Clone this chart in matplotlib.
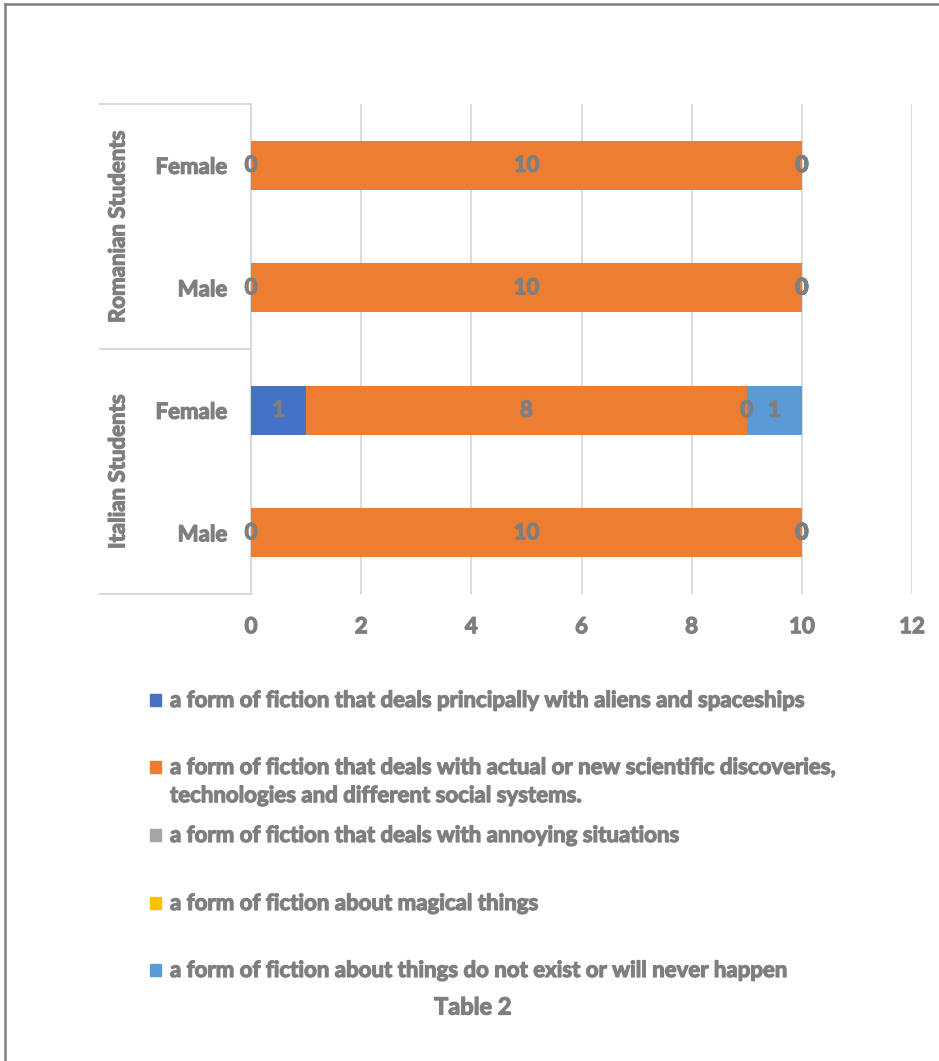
import matplotlib
matplotlib.use("Agg")
import matplotlib.pyplot as plt
import matplotlib.patheffects as pe
from matplotlib.patches import Rectangle
from matplotlib.lines import Line2D
from matplotlib.transforms import blended_transform_factory

# ---- data ----
categories = ["Male", "Female", "Male", "Female"]
groups = ["Italian Students", "Romanian Students"]
series_names = [
    "a form of fiction that deals principally with aliens and spaceships",
    "a form of fiction that deals with actual or new scientific discoveries,\ntechnologies and different social systems.",
    "a form of fiction that deals with annoying situations",
    "a form of fiction about magical things",
    "a form of fiction about things do not exist or will never happen",
]
aliens = [0, 1, 0, 0]
scientific = [10, 8, 10, 10]
annoying = [0, 0, 0, 0]
magical = [0, 0, 0, 0]
never_happen = [0, 1, 0, 0]
series_values = [aliens, scientific, annoying, magical, never_happen]
series_colors = ["#4472C4", "#ED7D31", "#A5A5A5", "#FFC000", "#5B9BD5"]
x_ticks = [0, 2, 4, 6, 8, 10, 12]
caption = "Table 2"

FONT = ["Lato", "DejaVu Sans"]
TEXT = "#7f7f7f"
GRID = "#d9d9d9"
FS = 16
# heavier strokes for the text
BOLD = [pe.withStroke(linewidth=0.9, foreground=TEXT)]
plt.rcParams["font.family"] = FONT
plt.rcParams["font.weight"] = "bold"

W, H = 939, 1061
fig = plt.figure(figsize=(W / 100, H / 100), dpi=100)
ax = fig.add_axes([251 / W, 1 - 594 / H, (912 - 251) / W, (594 - 104) / H])

ypos = list(range(len(categories)))
left = [0] * len(categories)
for vals, col in zip(series_values, series_colors):
    bars = ax.barh(ypos, vals, left=left, height=0.4, color=col, zorder=3)
    labels = ax.bar_label(bars, labels=[str(v) for v in vals], label_type="center",
                          color=TEXT, fontsize=FS, fontweight="bold", zorder=4)
    for t in labels:
        t.set_path_effects(BOLD)
    left = [a + b for a, b in zip(left, vals)]

ax.set_xlim(0, 12)
ax.set_ylim(-0.5, len(categories) - 0.5)
ax.set_xticks(x_ticks)
ax.set_xticklabels([str(t) for t in x_ticks])
ax.set_yticks(ypos)
ax.set_yticklabels(categories)
ax.tick_params(axis="x", length=0, pad=16, labelsize=FS, labelcolor=TEXT)
ax.tick_params(axis="y", length=0, pad=17, labelsize=FS, labelcolor=TEXT)
for t in ax.get_xticklabels() + ax.get_yticklabels():
    t.set_path_effects(BOLD)
ax.xaxis.grid(True, color=GRID, lw=1.3, zorder=0)
for s in ["top", "right", "bottom"]:
    ax.spines[s].set_visible(False)
ax.spines["left"].set_color(GRID)
ax.spines["left"].set_linewidth(1.5)

# group separators and group names on the category axis
tr = blended_transform_factory(fig.transFigure, ax.transData)
for yb in [-0.5, 1.5, 3.5]:
    fig.add_artist(Line2D([100 / W, 251 / W], [yb, yb], transform=tr,
                          color=GRID, lw=1.5, clip_on=False))
for gi, g in enumerate(groups):
    yc = 2 * gi + 0.5
    txt = fig.text(118 / W, yc, g, rotation=90, ha="center", va="center",
                   color=TEXT, fontsize=FS, fontweight="bold", path_effects=BOLD)
    txt.set_transform(tr)

# legend entries
legend_y = [700, 767, 835, 903, 970]
for name, col, yy in zip(series_names, series_colors, legend_y):
    fig.add_artist(Rectangle((150 / W, 1 - (yy + 6) / H), 11 / W, 12 / H,
                             transform=fig.transFigure, color=col))
    fig.text(170 / W, 1 - (yy - 10) / H, name, ha="left", va="top",
             color=TEXT, fontsize=FS, fontweight="bold", linespacing=1.42,
             path_effects=BOLD)

fig.text(473 / W, 1 - 1007 / H, caption, ha="center", va="center",
         color=TEXT, fontsize=17, fontweight="bold", path_effects=BOLD)

# outer frame (top and left edges)
fig.add_artist(Line2D([5 / W, 1], [1 - 4 / H, 1 - 4 / H], transform=fig.transFigure,
                      color="#808080", lw=1.8))
fig.add_artist(Line2D([5 / W, 5 / W], [0, 1 - 4 / H], transform=fig.transFigure,
                      color="#808080", lw=1.8))

fig.savefig("out.png", dpi=100, facecolor="white")
